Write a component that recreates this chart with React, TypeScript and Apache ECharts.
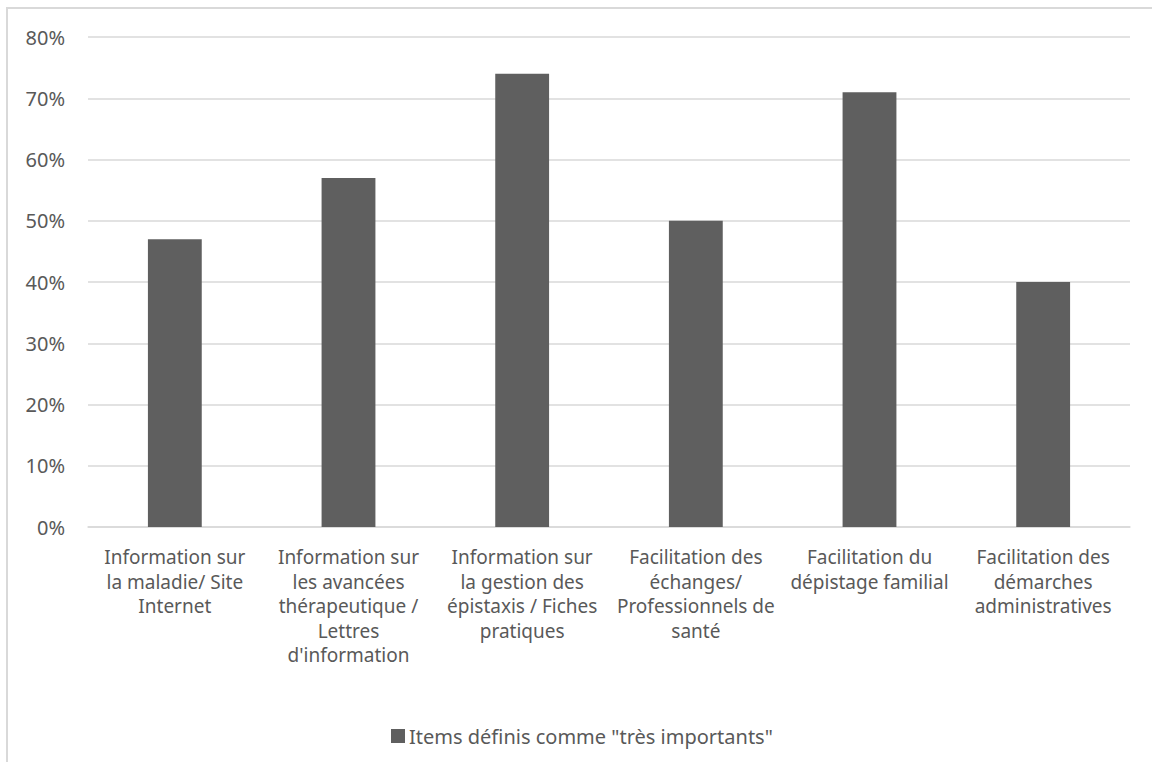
import React, { useEffect, useRef } from "react";
import * as echarts from "echarts";

const categories = [
  "Information sur\nla maladie/ Site\nInternet",
  "Information sur\nles avancées\nthérapeutique /\nLettres\nd'information",
  "Information sur\nla gestion des\népistaxis / Fiches\npratiques",
  "Facilitation des\néchanges/\nProfessionnels de\nsanté",
  "Facilitation du\ndépistage familial",
  "Facilitation des\ndémarches\nadministratives",
];
const values = [47, 57, 74, 50, 71, 40];
const seriesName = 'Items définis comme "très importants"';

export default function App() {
  const ref = useRef<HTMLDivElement>(null);
  useEffect(() => {
    if (!ref.current) return;
    const chart = echarts.init(ref.current, null, { renderer: "svg" });
    const font = "'Noto Sans', 'Open Sans', sans-serif";
    chart.setOption({
      animation: false,
      textStyle: { fontFamily: font },
      grid: { left: 80, right: 22, top: 29, bottom: 235, containLabel: false },
      legend: {
        bottom: 11,
        left: 378,
        itemWidth: 14,
        itemHeight: 14,
        itemGap: 4,
        icon: "rect",
        textStyle: { color: "#595959", fontSize: 20, fontFamily: font, padding: [0, 0, 0, -1] },
        data: [seriesName],
      },
      xAxis: {
        type: "category",
        data: categories,
        axisLine: { show: true, lineStyle: { color: "#d9d9d9", width: 1.5 } },
        axisTick: { show: false },
        axisLabel: {
          color: "#595959",
          fontSize: 19,
          lineHeight: 24.5,
          margin: 18,
          interval: 0,
          fontFamily: font,
        },
      },
      yAxis: {
        type: "value",
        min: 0,
        max: 80,
        interval: 10,
        axisLine: { show: false },
        axisTick: { show: false },
        splitLine: { lineStyle: { color: "#d9d9d9", width: 1.5 } },
        axisLabel: {
          color: "#595959",
          fontSize: 20,
          margin: 23,
          formatter: "{value}%",
          fontFamily: font,
        },
      },
      series: [
        {
          name: seriesName,
          type: "bar",
          data: values,
          barWidth: "31%",
          itemStyle: { color: "#5f5f5f" },
        },
      ],
    });
    return () => chart.dispose();
  }, []);
  return (
    <div
      style={{
        position: "absolute",
        left: 6,
        top: 7,
        width: 1146,
        height: 755,
        borderTop: "2px solid #d9d9d9",
        borderLeft: "2px solid #d9d9d9",
        boxSizing: "border-box",
      }}
    >
      <div ref={ref} style={{ position: "absolute", left: 0, top: -1, width: 1144, height: 754 }} />
    </div>
  );
}
